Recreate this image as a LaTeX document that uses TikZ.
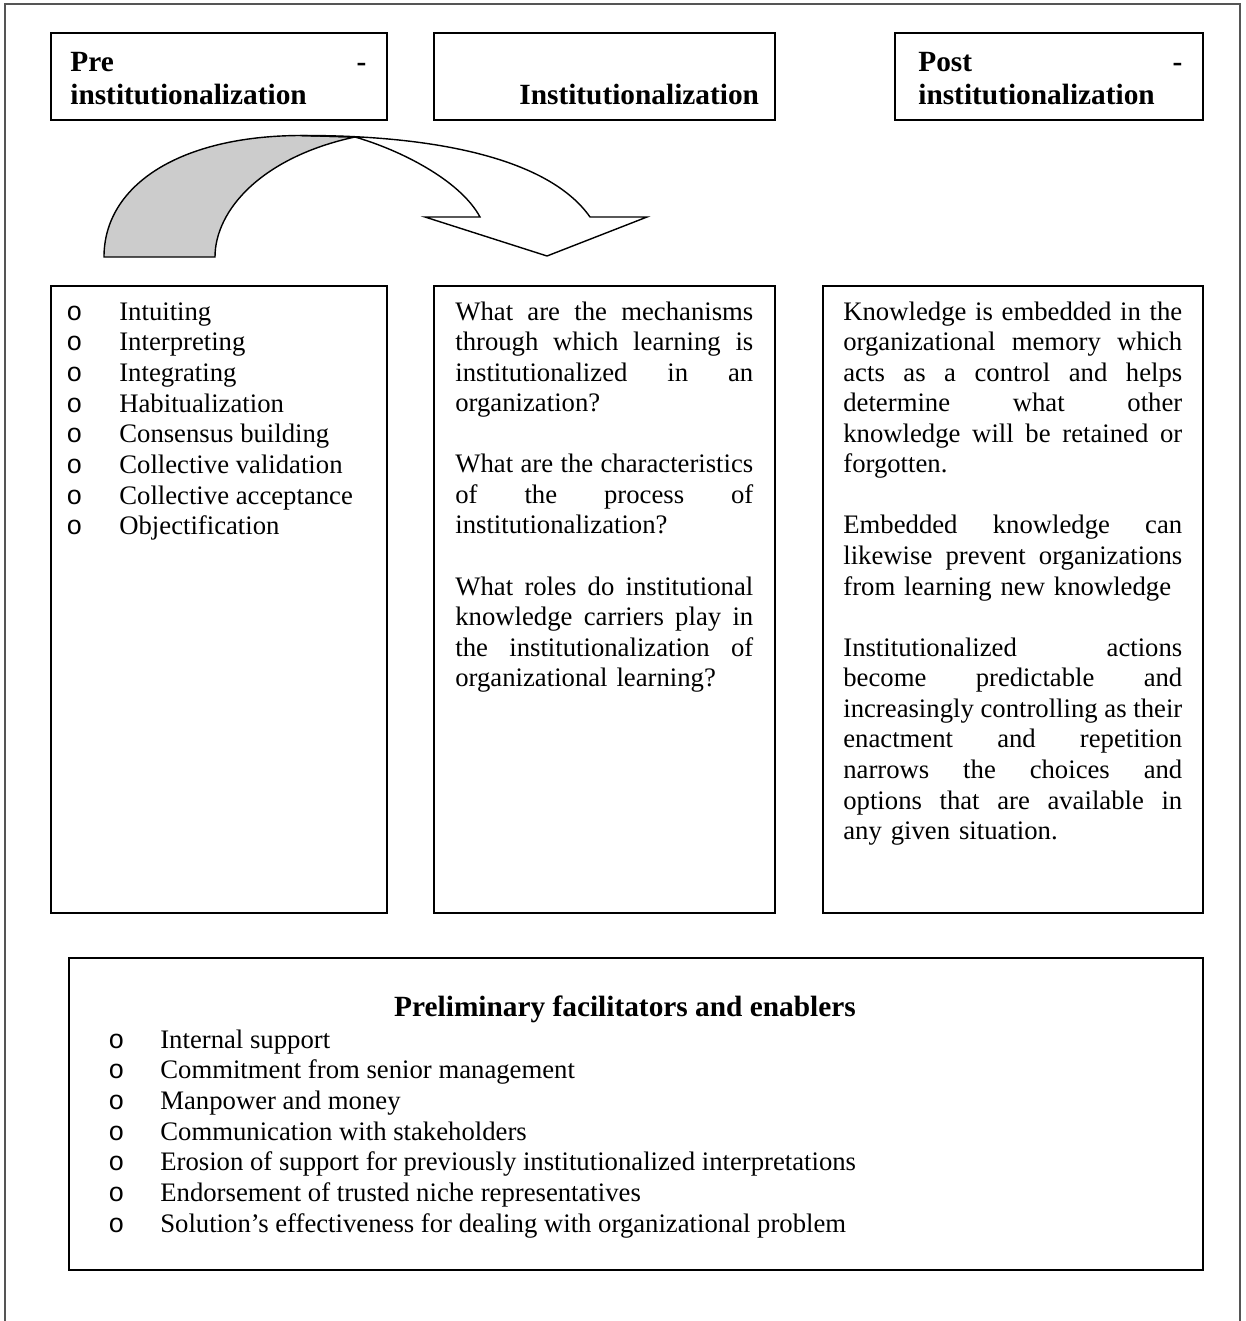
\documentclass[tikz,border=0pt]{standalone}
\usepackage{fontspec}
\setmainfont{Liberation Serif}
\newfontfamily\bulletFont{Liberation Mono}
\usepackage{tikz}
\definecolor{arrowGray}{HTML}{CCCCCC}
\definecolor{frameGray}{HTML}{555555}
\newcommand{\bodySize}{\fontsize{15.2pt}{17.4pt}\selectfont}
\newcommand{\headSize}{\fontsize{16.7pt}{18.7pt}\selectfont\bfseries}
\newcommand{\jline}[1]{{\spaceskip=\fontdimen2\font plus 1fil minus \fontdimen4\font
  \makebox[\linewidth][s]{#1}}}
\newcommand{\bul}[1]{\makebox[#1][l]{\bulletFont o}}

\begin{document}
\begin{tikzpicture}[x=0.02cm,y=-0.02cm,
  box/.style={draw,line width=1.1pt,anchor=north west,inner sep=0pt,outer sep=0pt},
  txt/.style={anchor=base west,inner sep=0pt,align=left,font=\bodySize}]
\useasboundingbox (0,0) rectangle (1245,1321);
% outer frame, open at the bottom
\draw[frameGray,line width=0.8pt] (5,1321)--(5,4)--(1240,4)--(1240,1321);

% stage headings
\node[box,minimum width=6.72cm,minimum height=1.74cm] (preBox) at (51,33) {};
\node[box,minimum width=6.82cm,minimum height=1.74cm] (instBox) at (434,33) {};
\node[box,minimum width=6.16cm,minimum height=1.74cm] (postBox) at (895,33) {};
\node[txt,font=\headSize,text width=5.92cm] (preHead) at (70,72) {Pre\hfill-\\institutionalization};
\node[txt,font=\headSize] (instHead) at (519,105) {Institutionalization};
\node[txt,font=\headSize,text width=5.28cm] (postHead) at (918,72) {Post\hfill-\\institutionalization};

% curved arrow
\filldraw[fill=arrowGray,line width=0.8pt] (104,257) .. controls (104,185) and (180,136) .. (300,135.5)
  -- (355,137) .. controls (262,157) and (215,210) .. (215,257) -- cycle;
\filldraw[fill=white,line width=0.8pt] (300,135.5) .. controls (440,135) and (550,160) .. (590,217)
  -- (647,217) -- (547,256) -- (425,217) -- (480,217)
  .. controls (460,180) and (400,150) .. (355,137) -- cycle;

% content boxes
\node[box,minimum width=6.72cm,minimum height=12.54cm] (preCol) at (51,286) {};
\node[box,minimum width=6.82cm,minimum height=12.54cm] (instCol) at (434,286) {};
\node[box,minimum width=7.60cm,minimum height=12.54cm] (postCol) at (823,286) {};

\foreach \lbl [count=\i from 0] in {Intuiting,Interpreting,Integrating,Habitualization,
    Consensus building,Collective validation,Collective acceptance,Objectification}
  \node[txt] (pre\i) at (66,{320+30.7*\i}) {\bul{1.06cm}\lbl};

\node[txt,text width=5.96cm] (instText) at (455,320) {%
\jline{What are the mechanisms}\\
\jline{through which learning is}\\
\jline{institutionalized in an}\\
organization?\\[17.4pt]
\jline{What are the characteristics}\\
\jline{of the process of}\\
institutionalization?\\[17.4pt]
\jline{What roles do institutional}\\
\jline{knowledge carriers play in}\\
\jline{the institutionalization of}\\
organizational learning?};

\node[txt,text width=6.78cm] (postText) at (843,320) {%
\jline{Knowledge is embedded in the}\\
\jline{organizational memory which}\\
\jline{acts as a control and helps}\\
\jline{determine what other}\\
\jline{knowledge will be retained or}\\
forgotten.\\[17.4pt]
\jline{Embedded knowledge can}\\
\jline{likewise prevent organizations}\\
from learning new knowledge\\[17.4pt]
\jline{Institutionalized actions}\\
\jline{become predictable and}\\
\jline{increasingly controlling as their}\\
\jline{enactment and repetition}\\
\jline{narrows the choices and}\\
\jline{options that are available in}\\
any given situation.};

% facilitators
\node[box,minimum width=22.68cm,minimum height=6.24cm] (facBox) at (69,958) {};
\node[anchor=base,inner sep=0pt,font=\headSize] (facHead) at (625,1016) {Preliminary facilitators and enablers};
\foreach \lbl [count=\i from 0] in {Internal support,Commitment from senior management,Manpower and money,
    Communication with stakeholders,Erosion of support for previously institutionalized interpretations,
    Endorsement of trusted niche representatives,Solution’s effectiveness for dealing with organizational problem}
  \node[txt] (fac\i) at (108,{1048+30.7*\i}) {\bul{1.04cm}\lbl};
\end{tikzpicture}
\end{document}
